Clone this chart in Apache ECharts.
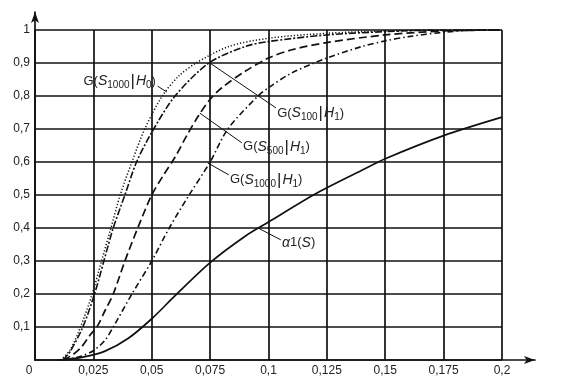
<!DOCTYPE html>
<html><head><meta charset="utf-8">
<script src="https://cdn.jsdelivr.net/npm/echarts@6/dist/echarts.min.js"></script>
<style>html,body{margin:0;padding:0;background:#fff}#c{width:566px;height:382px}</style>
</head><body><div id="c"></div>
<script>
const xTickLabels = ['0','0,025','0,05','0,075','0,1','0,125','0,15','0,175','0,2'];
const yTickLabels = ['','0,1','0,2','0,3','0,4','0,5','0,6','0,7','0,8','0,9','1'];

// G(S1000|H0) - dotted
const gS1000H0 = [[0.011,0],[0.015,0.03],[0.0195,0.1],[0.0245,0.2],[0.0285,0.3],[0.0325,0.4],[0.0365,0.5],[0.0415,0.6],[0.047,0.7],[0.0545,0.8],[0.0615,0.86],[0.069,0.9],[0.083,0.95],[0.1,0.975],[0.125,0.99],[0.15,0.997],[0.175,1],[0.2,1]];
// G(S100|H1) - dash dot (long)
const gS100H1 = [[0.012,0],[0.015,0.025],[0.0205,0.1],[0.0255,0.2],[0.0295,0.3],[0.0335,0.4],[0.0385,0.5],[0.0435,0.6],[0.05,0.69],[0.06,0.8],[0.0745,0.9],[0.09,0.95],[0.1,0.965],[0.125,0.985],[0.15,0.995],[0.175,1],[0.2,1]];
// G(S500|H1) - long dashed
const gS500H1 = [[0.012,0],[0.016,0.015],[0.02,0.04],[0.0235,0.075],[0.0265,0.1],[0.03,0.15],[0.0335,0.2],[0.0385,0.3],[0.044,0.4],[0.05,0.5],[0.055,0.56],[0.06,0.615],[0.065,0.68],[0.07,0.74],[0.075,0.79],[0.08,0.825],[0.09,0.875],[0.1,0.915],[0.11,0.94],[0.125,0.962],[0.15,0.985],[0.175,0.997],[0.2,1]];
// G(S1000|H1) - dash dot
const gS1000H1 = [[0.012,0],[0.016,0.005],[0.02,0.012],[0.025,0.028],[0.03,0.06],[0.0335,0.1],[0.0415,0.2],[0.05,0.3],[0.0575,0.4],[0.066,0.5],[0.075,0.6],[0.0826,0.7],[0.0955,0.8],[0.1,0.825],[0.11,0.87],[0.125,0.915],[0.14,0.95],[0.15,0.967],[0.16,0.98],[0.175,0.993],[0.19,1],[0.2,1]];
// alpha1(S) - solid
const alpha1 = [[0.01,0],[0.02,0.008],[0.03,0.027],[0.04,0.066],[0.05,0.125],[0.06,0.195],[0.075,0.295],[0.09,0.375],[0.1,0.418],[0.12,0.503],[0.14,0.575],[0.15,0.61],[0.175,0.68],[0.2,0.736]];

// annotations: [curve point, leader end, text anchor] in data space
const annotations = [
  {text:'{n|G(}{i|S}{sub|1000}{bar||}{i|H}{sub|0}{n|)}', pt:[0.0565,0.812], end:[0.0525,0.83], at:[0.0518,0.845], align:'right'},
  {text:'{n|G(}{i|S}{sub|100}{bar||}{i|H}{sub|1}{n|)}', pt:[0.0749,0.9], end:[0.1032,0.764], at:[0.1037,0.748], align:'left'},
  {text:'{n|G(}{i|S}{sub|500}{bar||}{i|H}{sub|1}{n|)}', pt:[0.0706,0.748], end:[0.0886,0.658], at:[0.0891,0.646], align:'left'},
  {text:'{n|G(}{i|S}{sub|1000}{bar||}{i|H}{sub|1}{n|)}', pt:[0.074,0.597], end:[0.083,0.561], at:[0.0835,0.546], align:'left'},
  {text:'{i|α}{n|1(}{i|S}{n|)}', pt:[0.0955,0.4], end:[0.1053,0.364], at:[0.1058,0.355], align:'left'}
];

const C = '#111';
const FONT = 'Liberation Sans, Arial, sans-serif';
const chart = echarts.init(document.getElementById('c'), null, {renderer:'canvas'});

function mk(name, data, type, width) {
  return {name, type:'line', xAxisIndex:0, yAxisIndex:0, data, showSymbol:false, symbol:'none',
    smooth:0.3, silent:true,
    lineStyle:{color:C, width:width||1.6, type}};
}

chart.setOption({
  animation:false,
  backgroundColor:'#fff',
  grid:[
    {left:35, top:30, width:467, height:330},
    {left:35, top:12, width:500, height:348}
  ],
  xAxis:[
    {type:'value', gridIndex:0, min:0, max:0.2, interval:0.025,
      axisLine:{show:false}, axisTick:{show:false},
      splitLine:{show:true, lineStyle:{color:C, width:1.7}},
      axisLabel:{margin:5, color:'#222', fontSize:12, fontFamily:FONT,
        formatter:function(v){const i=Math.round(v/0.025); return i===0 ? '{z|'+xTickLabels[0]+'}' : xTickLabels[i];},
        rich:{z:{fontSize:12, fontFamily:FONT, color:'#222', padding:[0,12,0,0]}}}},
    {type:'value', gridIndex:1, min:0, max:1,
      axisLine:{show:true, symbol:['none','arrow'], symbolSize:[6,11], lineStyle:{color:C, width:1.7}},
      axisTick:{show:false}, axisLabel:{show:false}, splitLine:{show:false}}
  ],
  yAxis:[
    {type:'value', gridIndex:0, min:0, max:1, interval:0.1,
      axisLine:{show:false}, axisTick:{show:false},
      splitLine:{show:true, lineStyle:{color:C, width:1.7}},
      axisLabel:{margin:5, color:'#222', fontSize:12, fontFamily:FONT,
        formatter:function(v){return yTickLabels[Math.round(v*10)];}}},
    {type:'value', gridIndex:1, min:0, max:1,
      axisLine:{show:true, symbol:['none','arrow'], symbolSize:[6,11], lineStyle:{color:C, width:1.7}},
      axisTick:{show:false}, axisLabel:{show:false}, splitLine:{show:false}}
  ],
  series:[
    mk('G(S1000|H0)', gS1000H0, [1.2,2], 1.5),
    mk('G(S100|H1)', gS100H1, [7,2,2,2], 1.6),
    mk('G(S500|H1)', gS500H1, [8,4], 1.7),
    mk('G(S1000|H1)', gS1000H1, [6,3,1.5,3], 1.6),
    mk('α1(S)', alpha1, 'solid', 1.7)
  ]
});

const rich = {
  n:{fontSize:13, fontFamily:FONT, fill:'#222'},
  i:{fontSize:14, fontStyle:'italic', fontFamily:FONT, fill:'#222'},
  sub:{fontSize:10, fontFamily:FONT, fill:'#222', padding:[8,0,0,0]},
  bar:{fontSize:17, fontFamily:FONT, fill:'#222', padding:[0,1,0,1]}
};
const graphics = [];
annotations.forEach(function(a){
  const p = chart.convertToPixel({gridIndex:0}, a.pt);
  const e = chart.convertToPixel({gridIndex:0}, a.end);
  const t = chart.convertToPixel({gridIndex:0}, a.at);
  graphics.push({type:'line', silent:true, shape:{x1:p[0],y1:p[1],x2:e[0],y2:e[1]}, style:{stroke:C, lineWidth:1}});
  graphics.push({type:'text', silent:true, x:t[0], y:t[1], style:{text:a.text, rich:rich, align:a.align, verticalAlign:'middle', fill:'#222', font:'13px '+FONT}});
});
chart.setOption({graphic:graphics});
</script>
</body></html>
